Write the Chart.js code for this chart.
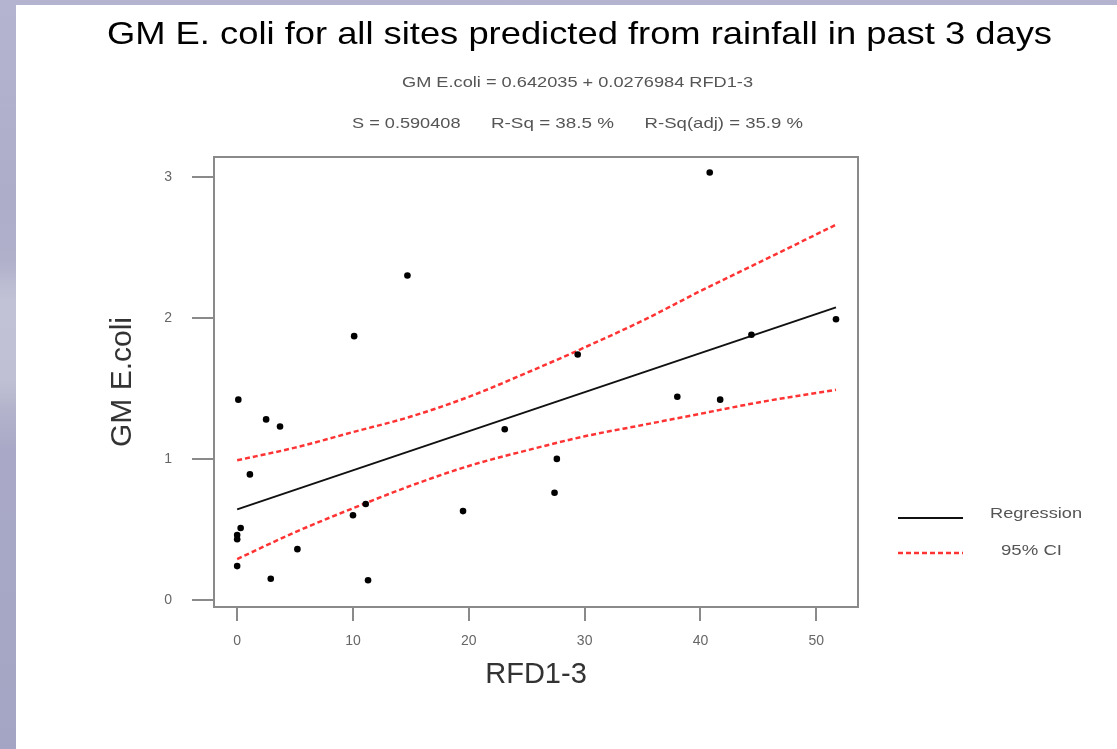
<!DOCTYPE html>
<html><head><meta charset="utf-8">
<script src="https://cdn.jsdelivr.net/npm/chart.js@4.4.1/dist/chart.umd.min.js"></script>
<style>
html,body{margin:0;padding:0;width:1117px;height:749px;overflow:hidden;}
body{background:linear-gradient(180deg,#b4b4d0 0px,#adadca 200px,#b0b0cb 260px,#c2c2d6 300px,#c0c0d4 380px,#b3b3cc 410px,#a9a9c7 450px,#a4a4c4 749px);}
#wrap{position:absolute;left:16px;top:5px;width:1101px;height:744px;background:#fff;}
</style></head>
<body><div id="wrap"><canvas id="c" width="1101" height="744"></canvas></div>
<script>
// ---- data ----
const xTicks = [0, 10, 20, 30, 40, 50];
const yTicks = [0, 1, 2, 3];
const rfd = [0.1, 14.7, 10.1, 2.5, 3.7, 1.1, 23.1, 0.3, 0.0, 0.0, 0.0, 5.2, 2.9, 10.0, 11.1, 11.3, 19.5, 40.8, 29.4, 44.4, 51.7, 38.0, 41.7, 27.6, 27.4];
const gmEcoli = [1.42, 2.30, 1.87, 1.28, 1.23, 0.89, 1.21, 0.51, 0.46, 0.43, 0.24, 0.36, 0.15, 0.60, 0.68, 0.14, 0.63, 3.03, 1.74, 1.88, 1.99, 1.44, 1.42, 1.00, 0.76];
const fitX = [0, 51.7];
const fitY = [0.642, 2.074];
const ciX = [0, 5, 10, 15, 20, 25, 30, 35, 40, 45, 51.7];
const ciUpper = [0.99, 1.08, 1.19, 1.30, 1.44, 1.61, 1.79, 1.98, 2.19, 2.39, 2.66];
const ciLower = [0.29, 0.48, 0.65, 0.81, 0.95, 1.06, 1.16, 1.24, 1.32, 1.40, 1.49];

const FONT = '"Liberation Sans", Arial, sans-serif';

function fitText(ctx, text, x, y, size, width, color, align) {
  ctx.save();
  ctx.font = size + 'px ' + FONT;
  const w = ctx.measureText(text).width;
  const s = width / w;
  ctx.translate(x, y);
  ctx.scale(s, 1);
  ctx.textAlign = align || 'center';
  ctx.textBaseline = 'alphabetic';
  ctx.fillStyle = color;
  ctx.fillText(text, 0, 0);
  ctx.restore();
}

const framePlugin = {
  id: 'frame',
  beforeDatasetsDraw(chart) {
    const a = chart.chartArea, ctx = chart.ctx;
    ctx.save();
    ctx.strokeStyle = '#8a8a8a';
    ctx.lineWidth = 2;
    ctx.strokeRect(a.left, a.top, a.right - a.left, a.bottom - a.top);
    ctx.restore();
  }
};

const textPlugin = {
  id: 'texts',
  afterDraw(chart) {
    const ctx = chart.ctx;
    fitText(ctx, 'GM E. coli for all sites predicted from rainfall in past 3 days', 563.5, 39, 32, 945, '#000', 'center');
    fitText(ctx, 'GM E.coli = 0.642035 + 0.0276984 RFD1-3', 386, 81.5, 15, 351, '#555', 'left');
    fitText(ctx, 'S = 0.590408', 336, 123, 15, 108.5, '#555', 'left');
    fitText(ctx, 'R-Sq = 38.5 %', 475, 123, 15, 123, '#555', 'left');
    fitText(ctx, 'R-Sq(adj) = 35.9 %', 628.6, 123, 15, 158.4, '#555', 'left');
    // legend
    ctx.save();
    ctx.strokeStyle = '#111'; ctx.lineWidth = 2;
    ctx.beginPath(); ctx.moveTo(882, 513); ctx.lineTo(947, 513); ctx.stroke();
    ctx.strokeStyle = '#ff3333'; ctx.lineWidth = 2.5; ctx.setLineDash([5, 3]);
    ctx.beginPath(); ctx.moveTo(882, 548); ctx.lineTo(947, 548); ctx.stroke();
    ctx.restore();
    fitText(ctx, 'Regression', 974, 513, 15, 92, '#555', 'left');
    fitText(ctx, '95% CI', 985, 550, 15, 61, '#555', 'left');
  }
};

const ctx = document.getElementById('c').getContext('2d');
new Chart(ctx, {
  type: 'scatter',
  data: {
    datasets: [
      {
        label: 'GM E.coli',
        data: rfd.map((x, i) => ({ x: x, y: gmEcoli[i] })),
        pointRadius: 3.3,
        pointBorderWidth: 0,
        backgroundColor: '#000',
        borderColor: '#000'
      },
      {
        type: 'line', label: 'Regression',
        data: fitX.map((x, i) => ({ x: x, y: fitY[i] })),
        borderColor: '#111', borderWidth: 2, pointRadius: 0, fill: false
      },
      {
        type: 'line', label: '95% CI upper',
        data: ciX.map((x, i) => ({ x: x, y: ciUpper[i] })),
        borderColor: '#ff3333', borderWidth: 2.5, borderDash: [5, 3], pointRadius: 0,
        fill: false, cubicInterpolationMode: 'monotone'
      },
      {
        type: 'line', label: '95% CI lower',
        data: ciX.map((x, i) => ({ x: x, y: ciLower[i] })),
        borderColor: '#ff3333', borderWidth: 2.5, borderDash: [5, 3], pointRadius: 0,
        fill: false, cubicInterpolationMode: 'monotone'
      }
    ]
  },
  options: {
    responsive: false,
    animation: false,
    devicePixelRatio: 1,
    layout: { padding: { left: 0, top: 152, right: 259, bottom: 0 } },
    plugins: { legend: { display: false }, tooltip: { enabled: false } },
    scales: {
      x: {
        type: 'linear', min: -2, max: 53.6,
        afterFit(s) { s.height = 142; },
        afterBuildTicks(s) { s.ticks = xTicks.map(v => ({ value: v })); },
        grid: { drawOnChartArea: false, drawTicks: true, tickLength: 14, tickColor: '#8a8a8a', lineWidth: 2 },
        border: { display: false },
        ticks: { color: '#666', font: { family: FONT, size: 14 }, padding: 12 },
        title: { display: true, text: 'RFD1-3', color: '#333', font: { family: FONT, size: 29 }, padding: { top: 0, bottom: 57 } }
      },
      y: {
        type: 'linear', min: -0.05, max: 3.14,
        afterFit(s) { s.width = 198; },
        afterBuildTicks(s) { s.ticks = yTicks.map(v => ({ value: v })); },
        grid: { drawOnChartArea: false, drawTicks: true, tickLength: 22, tickColor: '#8a8a8a', lineWidth: 2 },
        border: { display: false },
        ticks: { color: '#666', font: { family: FONT, size: 14 }, padding: 20 },
        title: { display: true, text: 'GM E.coli', color: '#333', font: { family: FONT, size: 30 }, padding: { top: 89, bottom: 0 } }
      }
    }
  },
  plugins: [framePlugin, textPlugin]
});
</script>
</body></html>
